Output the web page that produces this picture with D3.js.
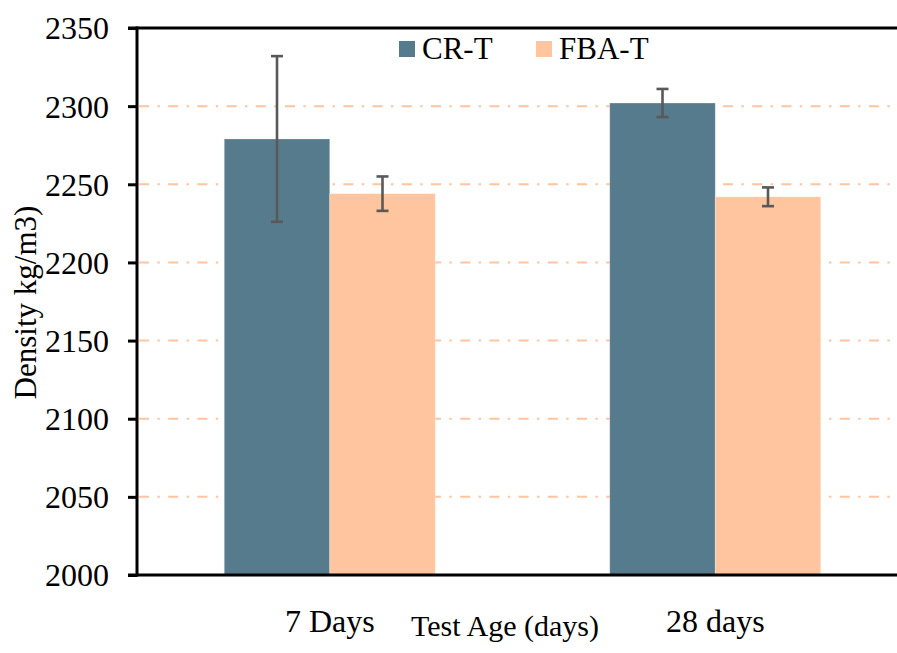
<!DOCTYPE html>
<html>
<head>
<meta charset="utf-8">
<script src="https://cdn.jsdelivr.net/npm/d3@7"></script>
<style>
  html, body { margin: 0; padding: 0; background: #fff; }
  svg { display: block; }
  text { font-family: "Liberation Serif", "Times New Roman", serif; fill: #000; }
</style>
</head>
<body>
<svg id="chart" width="897" height="653"></svg>
<script>
// Density by test age, two mixes, with standard-deviation error bars
const categories = ["7 Days", "28 days"];
const seriesNames = ["CR-T", "FBA-T"];
const crValues = [2279, 2302];
const crErrors = [53, 9];
const fbaValues = [2244, 2242];
const fbaErrors = [11, 6];
const yTicks = [2000, 2050, 2100, 2150, 2200, 2250, 2300, 2350];
const gridValues = [2050, 2100, 2150, 2200, 2250, 2300];
const colors = { "CR-T": "#567B8C", "FBA-T": "#FFC59F" };
const serif = "'Liberation Serif','Times New Roman',serif";

const rows = categories.map((c, i) => ({
  category: c,
  bars: [
    { series: "CR-T", value: crValues[i], err: crErrors[i] },
    { series: "FBA-T", value: fbaValues[i], err: fbaErrors[i] }
  ]
}));

const svg = d3.select("#chart").attr("font-family", serif);
const plotLeft = 137, plotTop = 28, plotBottom = 575, plotRight = 908;

const y = d3.scaleLinear().domain([2000, 2350]).range([plotBottom, plotTop]);
const x0 = d3.scaleBand().domain(categories).range([plotLeft, plotRight]).padding(0);
const x1 = d3.scaleBand().domain(seriesNames).range([0, x0.bandwidth()])
  .paddingInner(0).paddingOuter(0.827);

// dash-dot gridlines
svg.append("g").selectAll("line").data(gridValues).join("line")
  .attr("x1", plotLeft + 2).attr("x2", 897)
  .attr("y1", d => y(d)).attr("y2", d => y(d))
  .attr("stroke", "#FFC4A0").attr("stroke-width", 2)
  .attr("stroke-dasharray", "10,8.4,2.4,8.4");

// bars
const groups = svg.append("g").selectAll("g").data(rows).join("g")
  .attr("transform", d => `translate(${x0(d.category)},0)`);

groups.selectAll("rect").data(d => d.bars).join("rect")
  .attr("x", d => x1(d.series))
  .attr("width", x1.bandwidth())
  .attr("y", d => y(d.value))
  .attr("height", d => y(2000) - y(d.value))
  .attr("fill", d => colors[d.series])
  .attr("stroke", "#ffffff").attr("stroke-opacity", 0.35).attr("stroke-width", 0.75);

// error bars
const eb = groups.selectAll("g.err").data(d => d.bars).join("g").attr("class", "err")
  .attr("stroke", "#595959").attr("stroke-width", 2.6);
eb.append("line")
  .attr("x1", d => x1(d.series) + x1.bandwidth() / 2)
  .attr("x2", d => x1(d.series) + x1.bandwidth() / 2)
  .attr("y1", d => y(d.value + d.err)).attr("y2", d => y(d.value - d.err));
eb.selectAll("line.cap").data(d => [
    { x: x1(d.series) + x1.bandwidth() / 2, v: d.value + d.err },
    { x: x1(d.series) + x1.bandwidth() / 2, v: d.value - d.err }
  ]).join("line").attr("class", "cap")
  .attr("x1", d => d.x - 6).attr("x2", d => d.x + 6)
  .attr("y1", d => y(d.v)).attr("y2", d => y(d.v));

// y axis
const yAxis = svg.append("g").attr("transform", `translate(${plotLeft},0)`)
  .call(d3.axisLeft(y).tickValues(yTicks).tickSize(9).tickPadding(19).tickFormat(d3.format("d")))
  .attr("font-family", serif);
yAxis.select(".domain").remove();
yAxis.selectAll(".tick line").attr("stroke", "#000").attr("stroke-width", 3);
yAxis.selectAll(".tick text").attr("font-size", 32).attr("dy", "0.34em");
svg.append("line").attr("x1", plotLeft).attr("x2", plotLeft)
  .attr("y1", plotTop - 1.5).attr("y2", plotBottom + 1.5)
  .attr("stroke", "#000").attr("stroke-width", 3);

// top border and x axis
svg.append("line").attr("x1", plotLeft - 9).attr("x2", 897).attr("y1", plotTop).attr("y2", plotTop)
  .attr("stroke", "#000").attr("stroke-width", 3);
const xAxis = svg.append("g").attr("transform", `translate(0,${plotBottom})`)
  .call(d3.axisBottom(x0).tickSize(0).tickPadding(34))
  .attr("font-family", serif);
xAxis.select(".domain").remove();
xAxis.selectAll(".tick text").attr("font-size", 32).attr("dy", "0.71em");
svg.append("line").attr("x1", plotLeft - 9).attr("x2", 897).attr("y1", plotBottom).attr("y2", plotBottom)
  .attr("stroke", "#000").attr("stroke-width", 3);

// axis titles
svg.append("text").attr("x", 505).attr("y", 636).attr("text-anchor", "middle")
  .attr("font-size", 30).text("Test Age (days)");
svg.append("text").attr("transform", "translate(36,302.5) rotate(-90)")
  .attr("text-anchor", "middle").attr("font-size", 31).text("Density kg/m3)");

// legend
const legendX = [399, 536];
const legend = svg.append("g").selectAll("g").data(seriesNames).join("g")
  .attr("transform", (d, i) => `translate(${legendX[i]},41)`);
legend.append("rect").attr("width", 16).attr("height", 16).attr("fill", d => colors[d]);
legend.append("text").attr("x", 23).attr("y", 17.5).attr("font-size", 31).text(d => d);
</script>
</body>
</html>
